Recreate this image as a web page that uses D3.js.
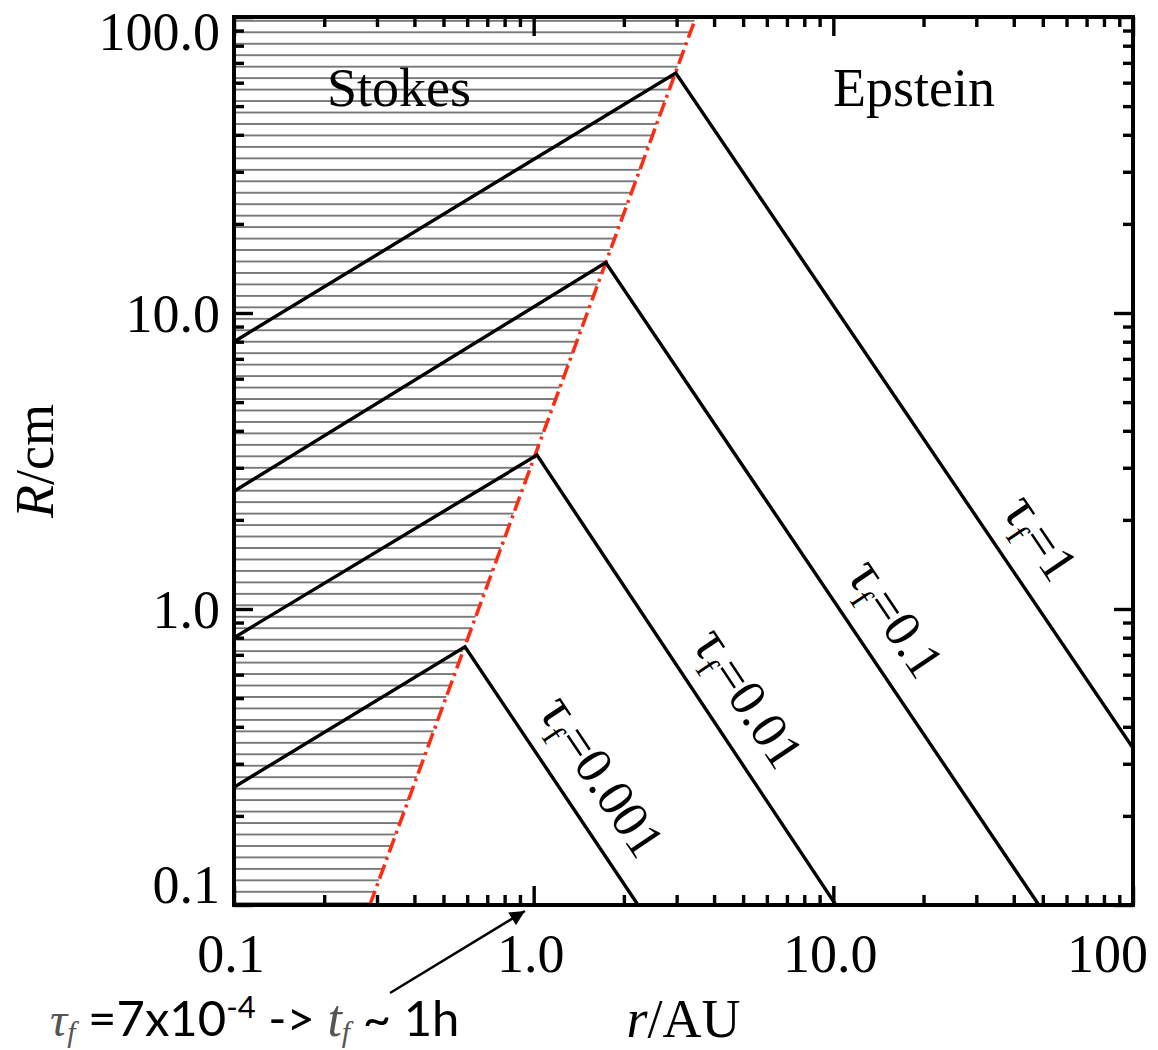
<!DOCTYPE html>
<html>
<head>
<meta charset="utf-8">
<script src="https://d3js.org/d3.v7.min.js"></script>
<style>
  body { margin: 0; background: #fff; }
  svg { display: block; }
  .serif { font-family: "Liberation Serif", "Times New Roman", serif; }
</style>
</head>
<body>
<div id="chart"></div>
<script>
  'use strict';

  // drag time tau_f for each curve
  var tauNames = ["1", "0.1", "0.01", "0.001"];
  // Stokes branch: R (cm) where it leaves the left edge (r = 0.1 AU)
  var stokesStartR = [8.0, 2.5, 0.8, 0.25];
  // corner where the curve meets the Stokes/Epstein boundary
  var peakRadius = [2.98, 1.74, 1.026, 0.59];
  var peakSize = [64.7, 14.8, 3.31, 0.745];
  // Epstein branch: where it leaves the plot
  var endRadius = [100, 48.5, 10.2, 2.23];
  var endSize = [0.339, 0.1, 0.1, 0.1];
  // r (AU) where each curve label starts
  var labelRadius = [31.1, 9.4, 2.87, 0.88];

  // Stokes/Epstein boundary (red dash-dot)
  var boundaryRadius = [0.284, 3.48];
  var boundarySize = [0.1, 100];

  var xTickLabels = ["0.1", "1.0", "10.0", "100"];
  var yTickLabels = ["0.1", "1.0", "10.0", "100.0"];
  var decades = [0.1, 1, 10, 100];

  var w = 1158;
  var h = 1050;
  var xLeft = 234, xRight = 1133, yTop = 17, yBottom = 905;
  var majorLen = 19, minorLen = 10;

  var x = d3.scaleLog().domain([0.1, 100]).range([xLeft, xRight]);
  var y = d3.scaleLog().domain([0.1, 100]).range([yBottom, yTop]);

  var minor = [];
  [0.1, 1, 10].forEach(function (d) {
    for (var k = 2; k <= 9; k++) {
      minor.push(d * k);
    }
  });

  var svg = d3.select("#chart").append("svg")
    .attr("width", w)
    .attr("height", h);

  var defs = svg.append("defs");
  defs.append("clipPath").attr("id", "plotClip")
    .append("rect")
    .attr("x", xLeft).attr("y", yTop)
    .attr("width", xRight - xLeft).attr("height", yBottom - yTop);

  var hatchGap = 11.46;
  var hatch = defs.append("pattern")
    .attr("id", "hatch")
    .attr("patternUnits", "userSpaceOnUse")
    .attr("width", 20)
    .attr("height", hatchGap)
    .attr("patternTransform", "translate(0," + (32.3 - hatchGap / 2) + ")");
  hatch.append("line")
    .attr("x1", 0).attr("x2", 20)
    .attr("y1", hatchGap / 2).attr("y2", hatchGap / 2)
    .attr("stroke", "#5e5e5e")
    .attr("stroke-width", 1.6);

  defs.append("marker")
    .attr("id", "arrowHead")
    .attr("viewBox", "0 0 10 10")
    .attr("refX", 10)
    .attr("refY", 5)
    .attr("markerUnits", "userSpaceOnUse")
    .attr("markerWidth", 17)
    .attr("markerHeight", 15)
    .attr("orient", "auto")
    .append("path")
    .attr("d", "M 0 0 L 10 5 L 0 10 z")
    .attr("fill", "#000");

  var plot = svg.append("g").attr("clip-path", "url(#plotClip)");

  var line = d3.line()
    .x(function (d) { return x(d[0]); })
    .y(function (d) { return y(d[1]); });

  // hatched Stokes region, left of the boundary
  var region = [[0.1, 0.1], [boundaryRadius[0], boundarySize[0]],
    [boundaryRadius[1], boundarySize[1]], [0.1, 100]];
  plot.append("path")
    .attr("d", line(region) + "Z")
    .attr("fill", "url(#hatch)");

  var curves = tauNames.map(function (name, i) {
    return [[0.1, stokesStartR[i]], [peakRadius[i], peakSize[i]], [endRadius[i], endSize[i]]];
  });

  plot.append("path")
    .attr("d", line([[boundaryRadius[0], boundarySize[0]], [boundaryRadius[1], boundarySize[1]]]))
    .attr("fill", "none")
    .attr("stroke", "#ff2a10")
    .attr("stroke-width", 3.5)
    .attr("stroke-dasharray", "15,5,3,5");

  plot.selectAll("path.tau")
    .data(curves)
    .enter()
    .append("path")
    .attr("class", "tau")
    .attr("d", line)
    .attr("fill", "none")
    .attr("stroke", "#000")
    .attr("stroke-width", 3.4)
    .attr("stroke-linejoin", "miter");

  // ticks on all four sides, pointing inward
  function tickAxis(axis, values, len, tx, ty) {
    var g = svg.append("g")
      .attr("transform", "translate(" + tx + "," + ty + ")")
      .call(axis.tickValues(values).tickSize(-len).tickFormat(""));
    g.select(".domain").remove();
    g.selectAll(".tick line").attr("stroke", "#000").attr("stroke-width", 3.4);
  }
  [[minor, minorLen], [decades, majorLen]].forEach(function (t) {
    tickAxis(d3.axisBottom(x), t[0], t[1], 0, yBottom);
    tickAxis(d3.axisTop(x), t[0], t[1], 0, yTop);
    tickAxis(d3.axisLeft(y), t[0], t[1], xLeft, 0);
    tickAxis(d3.axisRight(y), t[0], t[1], xRight, 0);
  });

  svg.append("rect")
    .attr("x", xLeft).attr("y", yTop)
    .attr("width", xRight - xLeft).attr("height", yBottom - yTop)
    .attr("fill", "none")
    .attr("stroke", "#000")
    .attr("stroke-width", 4);

  var fontSize = 54;

  svg.selectAll("text.xlab")
    .data(decades)
    .enter()
    .append("text")
    .attr("class", "xlab serif")
    .attr("x", function (d, i) { return i === 3 ? 1148 : x(d) - 3; })
    .attr("y", 972)
    .attr("text-anchor", function (d, i) { return i === 3 ? "end" : "middle"; })
    .attr("font-size", fontSize)
    .text(function (d, i) { return xTickLabels[i]; });

  svg.selectAll("text.ylab")
    .data(decades)
    .enter()
    .append("text")
    .attr("class", "ylab serif")
    .attr("x", 220)
    .attr("y", function (d, i) {
      if (i === 0) return yBottom - 2;
      if (i === 3) return 50;
      return y(d) + 19;
    })
    .attr("text-anchor", "end")
    .attr("font-size", fontSize)
    .text(function (d, i) { return yTickLabels[i]; });

  // axis titles
  var xt = svg.append("text")
    .attr("class", "serif")
    .attr("x", (xLeft + xRight) / 2)
    .attr("y", 1037)
    .attr("text-anchor", "middle")
    .attr("font-size", fontSize);
  xt.append("tspan").attr("font-style", "italic").text("r");
  xt.append("tspan").text("/AU");

  var yt = svg.append("text")
    .attr("class", "serif")
    .attr("transform", "translate(53," + (yTop + yBottom) / 2 + ") rotate(-90)")
    .attr("text-anchor", "middle")
    .attr("font-size", fontSize);
  yt.append("tspan").attr("font-style", "italic").text("R");
  yt.append("tspan").text("/cm");

  svg.append("text").attr("class", "serif")
    .attr("x", 327).attr("y", 106)
    .attr("font-size", fontSize)
    .text("Stokes");
  svg.append("text").attr("class", "serif")
    .attr("x", 833).attr("y", 106)
    .attr("font-size", fontSize)
    .text("Epstein");

  // curve labels along the Epstein branches
  curves.forEach(function (c, i) {
    var p0 = [x(c[1][0]), y(c[1][1])];
    var p1 = [x(c[2][0]), y(c[2][1])];
    var ang = Math.atan2(p1[1] - p0[1], p1[0] - p0[0]);
    var t = (x(labelRadius[i]) - p0[0]) / (p1[0] - p0[0]);
    var px = p0[0] + t * (p1[0] - p0[0]);
    var py = p0[1] + t * (p1[1] - p0[1]);
    var off = 24;
    px += off * Math.sin(ang);
    py -= off * Math.cos(ang);
    var lab = svg.append("text")
      .attr("class", "serif")
      .attr("transform", "translate(" + px + "," + py + ") rotate(" + (ang * 180 / Math.PI) + ")")
      .attr("font-size", 52);
    lab.append("tspan").attr("font-size", 58).text("\u03c4");
    lab.append("tspan").attr("font-size", 34).attr("dy", 11).text("f");
    lab.append("tspan").attr("dy", -11).text("=" + tauNames[i]);
  });

  // annotation under the axis
  svg.append("line")
    .attr("x1", 390).attr("y1", 993)
    .attr("x2", x(0.935)).attr("y2", yBottom + 6)
    .attr("stroke", "#000")
    .attr("stroke-width", 2.5)
    .attr("marker-end", "url(#arrowHead)");

  var note = svg.append("text")
    .attr("x", 50)
    .attr("y", 1036)
    .attr("font-family", "Lato, 'Open Sans', sans-serif")
    .attr("font-size", 49);
  note.append("tspan").attr("class", "serif").attr("font-style", "italic").attr("fill", "#555").attr("font-size", 48).text("\u03c4");
  note.append("tspan").attr("class", "serif").attr("font-style", "italic").attr("fill", "#555").attr("font-size", 30).attr("dy", 6).text("f");
  note.append("tspan").attr("dy", -6).text(" =7x10");
  note.append("tspan").attr("font-size", 31).attr("dy", -18).text("-4");
  note.append("tspan").attr("dy", 18).text(" -> ");
  note.append("tspan").attr("class", "serif").attr("font-style", "italic").attr("fill", "#555").attr("font-size", 52).text("t");
  note.append("tspan").attr("class", "serif").attr("font-style", "italic").attr("fill", "#555").attr("font-size", 30).attr("dy", 6).text("f");
  note.append("tspan").attr("dy", -6).text(" ~ 1h");
</script>
</body>
</html>
